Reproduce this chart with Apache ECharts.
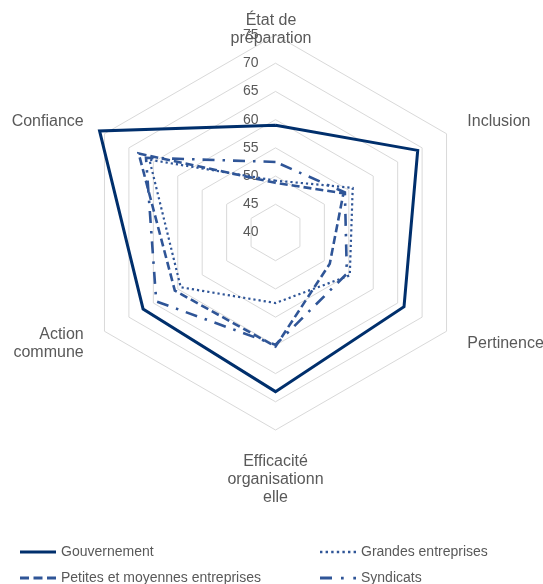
<!DOCTYPE html>
<html>
<head>
<meta charset="utf-8">
<script src="https://cdn.jsdelivr.net/npm/echarts@6/dist/echarts.min.js"></script>
<style>
  html, body { margin: 0; padding: 0; background: #ffffff; }
  #chart { width: 543px; height: 584px; }
</style>
</head>
<body>
<div id="chart"></div>
<script>
// Indicators, listed counter-clockwise from the top (ECharts radar order)
const indicatorNames = [
  'État de\npréparation',
  'Confiance',
  'Action\ncommune',
  'Efficacité\norganisationn\nelle',
  'Pertinence',
  'Inclusion'
];
const axisMin = 40;
const axisMax = 75;

// Scores per group, same indicator order as above
const seriesNames = [
  'Gouvernement',
  'Grandes entreprises',
  'Petites et moyennes entreprises',
  'Syndicats'
];
const gouvernement       = [59.0, 76.0, 67.1, 68.2, 66.3, 69.1];
const grandesEntreprises = [49.2, 65.8, 59.4, 52.5, 55.2, 55.8];
const pme                = [48.8, 68.0, 60.6, 60.2, 51.1, 53.9];
const syndicats          = [52.5, 66.5, 64.4, 59.9, 54.6, 54.2];

const FONT = '"Liberation Sans", Arial, sans-serif';
const TEXT = '#595959';
const NAVY = '#002F6C';
const BLUE = '#2F5597';

// Name offsets from the outer ring for each indicator
const nameGaps = [-12.5, 24, 24, 23, 24, 24];

const indicators = indicatorNames.map(function (name, i) {
  const ind = {
    name: name, min: axisMin, max: axisMax,
    nameGap: nameGaps[i], nameMoveOverlap: false
  };
  if (i === 0) {
    ind.axisLabel = {
      show: true, color: TEXT, fontSize: 14, fontFamily: FONT, margin: 17
    };
    ind.nameTextStyle = { padding: [0, 9, 0, 0] };
  }
  return ind;
});

// Legend icons: line samples matching each series' dash pattern
const iconSolid  = 'path://M0,0H36V3H0Z';
const iconDashed = 'path://M0,0H9V3H0Z M13.5,0H22.5V3H13.5Z M27,0H36V3H27Z';
const iconDotted = 'path://M0,0H2.4V2.4H0Z M5.6,0H8V2.4H5.6Z M11.2,0H13.6V2.4H11.2Z M16.8,0H19.2V2.4H16.8Z M22.4,0H24.8V2.4H22.4Z M28,0H30.4V2.4H28Z M33.6,0H36V2.4H33.6Z';
const iconDashDot = 'path://M0,0H12V3H0Z M21,0.3H23.7V3H21Z M33.3,0.3H36V3H33.3Z';

const legendText = { color: TEXT, fontSize: 14, fontFamily: FONT };

function radarSeries(name, values, color, width, type, z) {
  return {
    type: 'radar',
    name: name,
    symbol: 'none',
    z: z,
    lineStyle: { color: color, width: width, type: type, cap: 'butt', join: 'miter' },
    itemStyle: { color: color },
    areaStyle: null,
    emphasis: { disabled: true },
    data: [{ name: name, value: values }]
  };
}

const chart = echarts.init(document.getElementById('chart'), null, { renderer: 'canvas' });
chart.setOption({
  animation: false,
  backgroundColor: '#ffffff',
  textStyle: { fontFamily: FONT },
  radar: {
    center: [275.5, 232.5],
    radius: 197.5,
    startAngle: 90,
    splitNumber: 7,
    shape: 'polygon',
    nameGap: 24,
    axisName: { color: TEXT, fontSize: 16, fontFamily: FONT, lineHeight: 18 },
    axisLine: { show: false },
    axisTick: { show: false },
    axisLabel: { show: false },
    splitLine: { lineStyle: { color: '#d9d9d9', width: 1 } },
    splitArea: { show: false },
    indicator: indicators
  },
  legend: [
    {
      orient: 'vertical', left: 20, top: 545, width: 250, height: 60, padding: 0,
      itemWidth: 36, itemHeight: 14, itemGap: 12,
      itemStyle: { borderWidth: 0 },
      textStyle: legendText,
      selectedMode: false,
      data: [
        { name: seriesNames[0], icon: iconSolid },
        { name: seriesNames[2], icon: iconDashed }
      ]
    },
    {
      orient: 'vertical', left: 320, top: 545, width: 220, height: 60, padding: 0,
      itemWidth: 36, itemHeight: 14, itemGap: 12,
      itemStyle: { borderWidth: 0 },
      textStyle: legendText,
      selectedMode: false,
      data: [
        { name: seriesNames[1], icon: iconDotted },
        { name: seriesNames[3], icon: iconDashDot }
      ]
    }
  ],
  series: [
    radarSeries(seriesNames[1], grandesEntreprises, BLUE, 2.2, [2.2, 3], 2),
    radarSeries(seriesNames[2], pme, BLUE, 2.6, [8, 4], 2),
    radarSeries(seriesNames[3], syndicats, BLUE, 2.6, [12, 8, 2.5, 8], 2),
    radarSeries(seriesNames[0], gouvernement, NAVY, 3, 'solid', 3)
  ]
});
</script>
</body>
</html>
